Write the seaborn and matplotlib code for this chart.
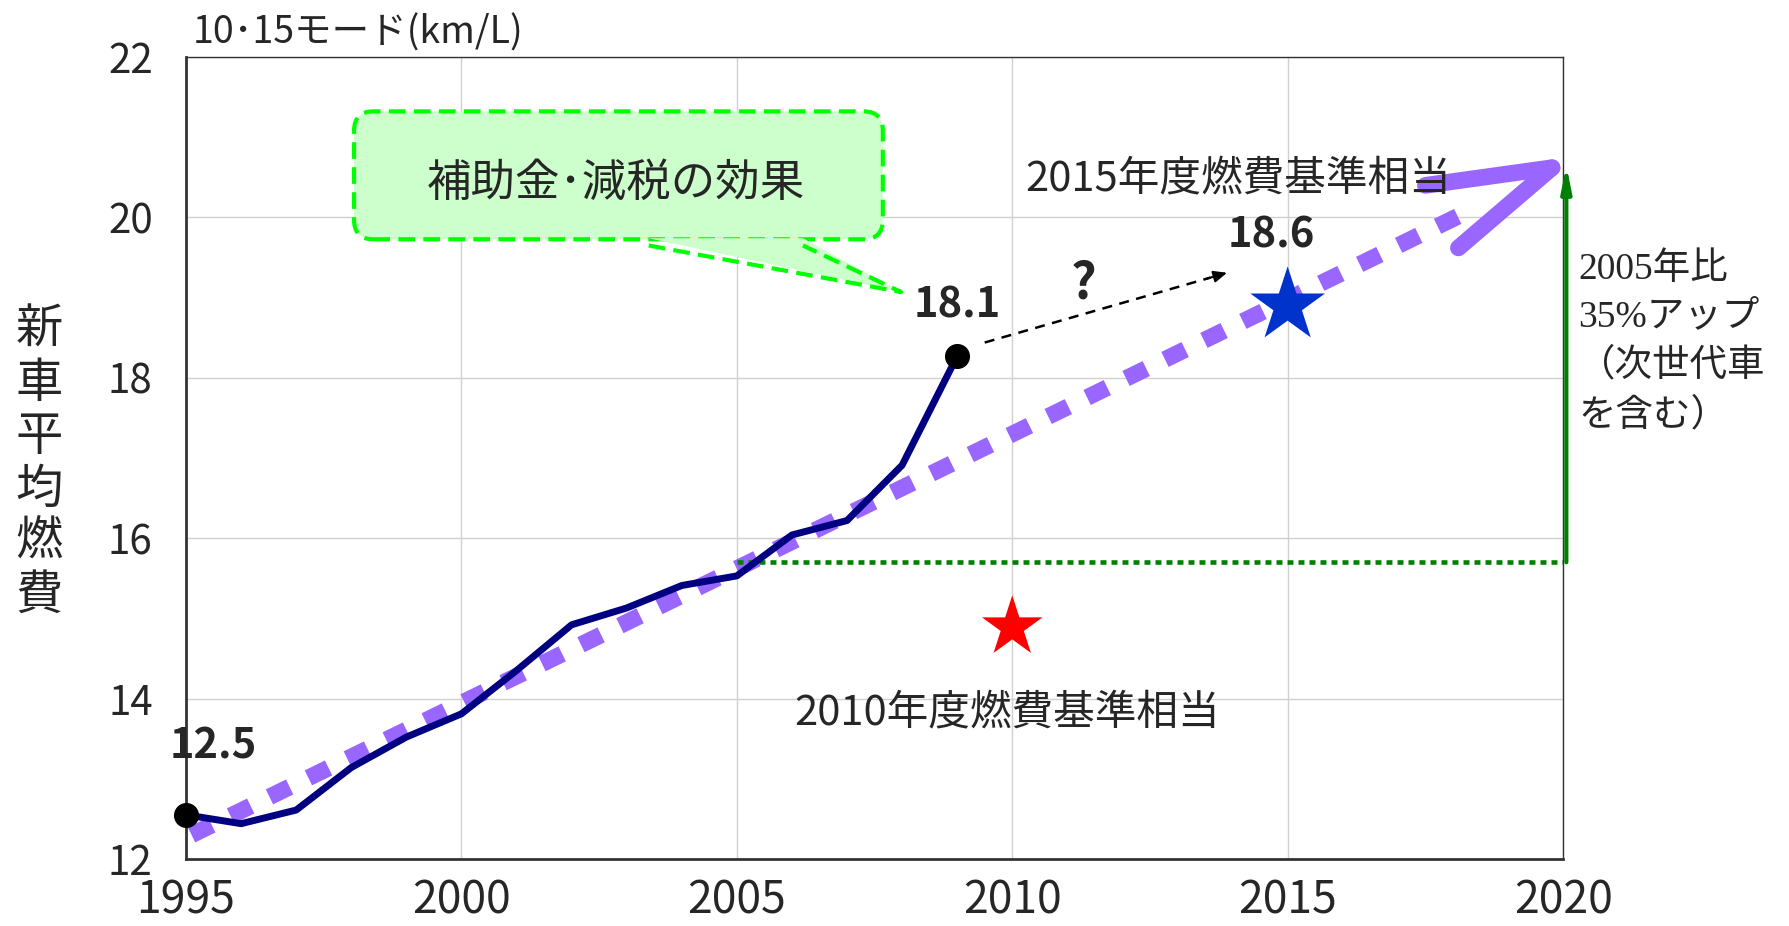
import numpy as np
import pandas as pd
import seaborn as sns
import matplotlib.pyplot as plt
from matplotlib.patches import FancyBboxPatch, Polygon

# 新車平均燃費 (10・15モード, km/L)
years = [1995, 1996, 1997, 1998, 1999, 2000, 2001, 2002, 2003, 2004, 2005, 2006, 2007, 2008, 2009]
fuel = [12.55, 12.44, 12.61, 13.14, 13.52, 13.81, 14.35, 14.92, 15.13, 15.41, 15.53, 16.04, 16.22, 16.91, 18.27]

x_ticks = [1995, 2000, 2005, 2010, 2015, 2020]
y_ticks = [12, 14, 16, 18, 20, 22]

# trend (purple dashed) and chevron head
trend_x = [1995.1, 2018.2]
trend_y = [12.3, 20.05]
head_tip = (2019.8, 20.62)
head_arms = [(2017.5, 20.4), (2018.1, 19.62)]

# standards
std_2010 = (2010, 14.89)
std_2015 = (2015, 18.9)
base_2005 = 15.7
target_2020 = 20.65

sns.set_style('whitegrid')
plt.rcParams['font.family'] = ['Noto Sans CJK JP', 'DejaVu Sans']

fig = plt.figure(figsize=(17.89, 9.26), dpi=100)
ax = fig.add_axes([0.104, 0.0724, 0.7697, 0.866])

df = pd.DataFrame({'year': years, 'fuel': fuel})

# trend line
ax.plot(trend_x, trend_y, color='#9966FF', lw=12, dashes=(1.35, 1.25), solid_capstyle='butt', zorder=2)
for arm in head_arms:
    ax.plot([arm[0], head_tip[0]], [arm[1], head_tip[1]], color='#9966FF', lw=12,
            solid_capstyle='round', zorder=2, clip_on=False)

# main series
sns.lineplot(data=df, x='year', y='fuel', color='#000080', lw=5, ax=ax, zorder=3)
ax.scatter([years[0], years[-1]], [fuel[0], fuel[-1]], s=290, color='black', zorder=4, clip_on=False)

# stars
sns.scatterplot(x=[std_2015[0]], y=[std_2015[1]], marker='*', s=3200, color='#0033CC',
                edgecolor='none', ax=ax, zorder=4)
sns.scatterplot(x=[std_2010[0]], y=[std_2010[1]], marker='*', s=2100, color='#FF0000',
                edgecolor='none', ax=ax, zorder=4)

# 2005 baseline and 35% up arrow
ax.plot([2005, 2020], [base_2005, base_2005], color='#008000', lw=3.3, dashes=(1.3, 1.1), zorder=2)
ax.annotate('', xy=(2020.06, target_2020), xytext=(2020.06, base_2005), annotation_clip=False,
            arrowprops=dict(arrowstyle='-|>,head_length=1.5,head_width=0.3', color='#008000',
                            lw=3, shrinkA=0, shrinkB=0))

# question arrow
ax.plot([2009.5, 2013.6], [18.44, 19.25], color='black', lw=1.8, ls=(0, (4, 3)), zorder=3)
ax.annotate('', xy=(2013.9, 19.31), xytext=(2013.5, 19.23),
            arrowprops=dict(arrowstyle='-|>,head_length=0.8,head_width=0.35', color='black',
                            lw=1.5, shrinkA=0, shrinkB=0))
ax.text(2011.3, 19.17, '?', fontsize=36, fontweight='bold', ha='center', va='center')

# callout box
box = FancyBboxPatch((1998.3, 19.9), 9.1, 1.25, boxstyle='round,pad=0.25,rounding_size=0.35',
                     mutation_aspect=0.69, facecolor='#CCFFCC', edgecolor='#00FF00', lw=3,
                     ls=(0, (4, 2)), zorder=5)
ax.add_patch(box)
tail = Polygon([(2003.4, 19.74), (2007.98, 19.07), (2006.2, 19.74)], closed=True,
               facecolor='#CCFFCC', edgecolor='none', zorder=6)
ax.add_patch(tail)
ax.plot([2003.4, 2007.98, 2006.2], [19.65, 19.07, 19.65], color='#00FF00', lw=3,
        ls=(0, (4, 2)), zorder=6)
ax.text(2002.8, 20.43, '補助金･減税の効果', fontsize=32, ha='center', va='center', zorder=7)

# value labels
ax.text(1995.5, 13.4, '12.5', fontsize=30, fontweight='bold', ha='center', va='center')
ax.text(2009.0, 18.9, '18.1', fontsize=30, fontweight='bold', ha='center', va='center')
ax.text(2014.7, 19.77, '18.6', fontsize=30, fontweight='bold', ha='center', va='center')

ax.text(2014.1, 20.48, '2015年度燃費基準相当', fontsize=30, ha='center', va='center')
ax.text(2009.9, 13.82, '2010年度燃費基準相当', fontsize=30, ha='center', va='center')

ax.text(1.011, 0.757, '2005年比\n35%アップ\n（次世代車\nを含む）', transform=ax.transAxes,
        fontsize=27, ha='left', va='top', linespacing=1.5,
        family=['Liberation Serif', 'Noto Sans CJK JP'])

ax.text(0.005, 1.006, '10･15モード(km/L)', transform=ax.transAxes, fontsize=27,
        ha='left', va='bottom')

fig.text(0.022, 0.5, '新\n車\n平\n均\n燃\n費', fontsize=34, ha='center', va='center',
         linespacing=1.12)

ax.set_xlim(1995, 2020)
ax.set_ylim(12, 22)
ax.set_xticks(x_ticks)
ax.set_yticks(y_ticks)
ax.tick_params(axis='x', labelsize=32, pad=13, length=0)
ax.tick_params(axis='y', labelsize=29, pad=24, length=0)
ax.set_xlabel('')
ax.set_ylabel('')
ax.grid(True, color='#d0d0d0', lw=1)
for side in ['left', 'bottom']:
    ax.spines[side].set_color('#333333')
    ax.spines[side].set_linewidth(2)
for side in ['top', 'right']:
    ax.spines[side].set_color('#333333')
    ax.spines[side].set_linewidth(1)

fig.savefig('out.png', dpi=100)
